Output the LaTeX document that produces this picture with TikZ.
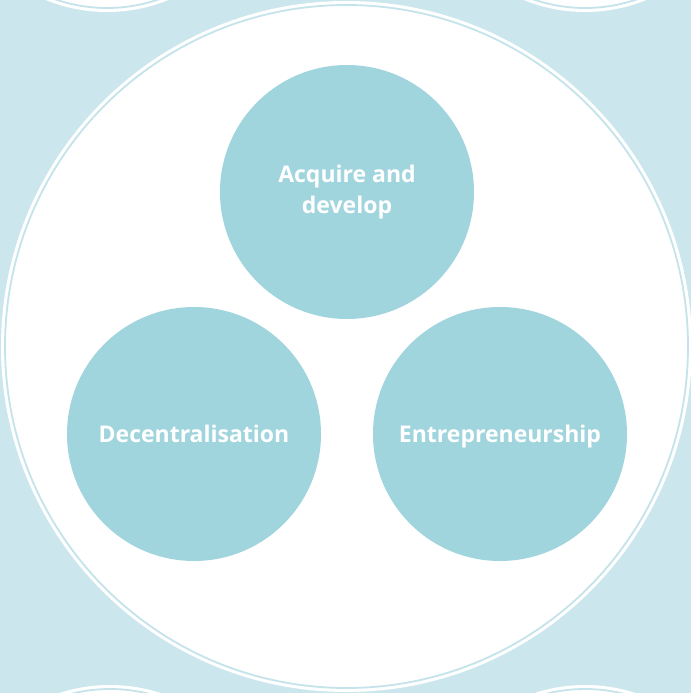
\documentclass[tikz,border=0pt]{standalone}
\usepackage{fontspec}
\setmainfont{Open Sans}
\usepackage{tikz}
\usetikzlibrary{positioning}
\definecolor{paleblue}{HTML}{CBE7ED}
\definecolor{ringblue}{HTML}{C4E3EA}
\definecolor{bubblecol}{HTML}{A1D5DE}

\begin{document}
\begin{tikzpicture}[x=1pt,y=-1pt,
    bubble/.style={circle, fill=bubblecol, minimum size=254pt, inner sep=0pt,
        text=white, align=center, font=\bfseries\fontsize{23}{31}\selectfont},
    oneline/.style={text height=16pt, text depth=0pt},
    ring/.style={draw=ringblue, line width=1.8pt}]
    \useasboundingbox (0,0) rectangle (691,693);
    \fill[paleblue] (0,0) rectangle (691,693);

    % corner discs
    \begin{scope}
        \clip (0,0) rectangle (691,693);
        \foreach \cx/\cy in {107/-150, 585/-150, 110/847, 585/847} {
            \fill[white] (\cx,\cy) circle[radius=162pt];
            \draw[ring] (\cx,\cy) circle[radius=158pt];
        }
    \end{scope}

    % main disc
    \fill[white] (346.5,346.5) circle[radius=345.5pt];
    \draw[ring] (346.5,346.5) circle[radius=341.5pt];

    \node[bubble] (acquire) at (347,192) {Acquire and\\develop};
    \node[bubble, oneline] (decentral) at (194,434) {Decentralisation};
    \node[bubble, oneline] (entrepreneur) at (500,434) {Entrepreneurship};
\end{tikzpicture}
\end{document}
